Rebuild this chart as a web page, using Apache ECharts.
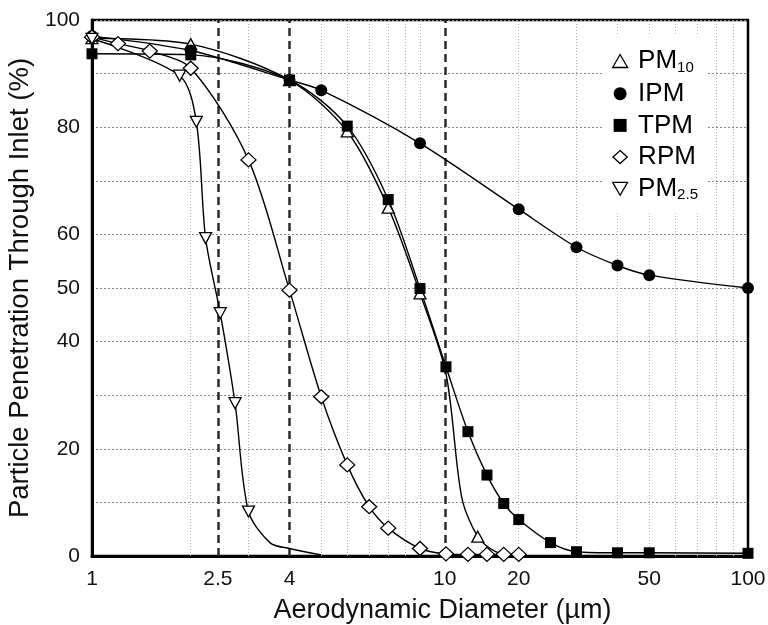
<!DOCTYPE html>
<html>
<head>
<meta charset="utf-8">
<script src="https://cdn.jsdelivr.net/npm/echarts@6/dist/echarts.min.js"></script>
<style>html,body{margin:0;padding:0;background:#fff;}#c{width:768px;height:625px;}</style>
</head>
<body>
<div id="c"></div>
<script>
// ---- data ----
const xTickValues = [1, 2.42, 4, 11.9, 20, 50, 100];
const xTickLabels = ['1', '2.5', '4', '10', '20', '50', '100'];
const yTickLabels = [0, 20, 40, 50, 60, 80, 100];
const xGridValues = [2, 3, 5, 6, 7, 8, 9, 10, 20, 30, 40, 50, 60, 70, 80, 90];
const dashedRefValues = [2.42, 4, 11.9];

const pm10D = [1, 2, 4, 6, 8, 10, 15];
const pm10V = [96.6, 95.5, 88.8, 79.2, 65.0, 49.0, 3.6];
const pm10CurveD = [12, 13.4, 17, 20];
const pm10CurveV = [34, 11, 0.8, 0];

const ipmD = [1, 2, 4, 5, 10, 20, 30, 40, 50, 100];
const ipmV = [97.0, 94.3, 88.8, 86.9, 77.0, 64.7, 57.6, 54.2, 52.4, 50.0];

const tpmD = [1, 2, 4, 6, 8, 10, 12, 14, 16, 18, 20, 25, 30, 40, 50, 100];
const tpmV = [93.7, 93.5, 88.8, 80.2, 66.5, 49.9, 35.3, 23.2, 15.1, 9.8, 6.8, 2.5, 0.8, 0.6, 0.6, 0.5];

const rpmD = [1, 1.2, 1.5, 2, 3, 4, 5, 6, 7, 8, 10, 12, 14, 16, 18, 20];
const rpmV = [96.8, 95.6, 94.2, 91.0, 73.9, 49.6, 29.7, 17.0, 9.2, 5.2, 1.4, 0.4, 0.3, 0.3, 0.3, 0.3];

const pm25D = [1, 1.85, 2.08, 2.22, 2.46, 2.73, 3.0];
const pm25V = [96.5, 89.6, 81.0, 59.3, 45.3, 28.5, 8.3];
const pm25CurveD = [3.5, 4, 5];
const pm25CurveV = [2.4, 1.4, 0.2];

const seriesNames = ['PM10', 'IPM', 'TPM', 'RPM', 'PM2.5'];

// ---- build ----
const FONT = '"Liberation Sans", Arial, Helvetica, sans-serif';
function build(ds, vs, cds, cvs) {
  const items = ds.map((d, i) => ({ value: [d, vs[i]] }));
  (cds || []).forEach((d, i) => items.push({ value: [d, cvs[i]], symbol: 'none' }));
  items.sort((a, b) => a.value[0] - b.value[0]);
  return items;
}
const lineStyle = { color: '#000', width: 1.4 };
const emptyItem = { color: '#fff', borderColor: '#000', borderWidth: 1.3 };
const fullItem = { color: '#000', borderColor: '#000', borderWidth: 0 };

const gridLines = xGridValues.map(v => ({ xAxis: v, lineStyle: { type: [1, 2], color: '#b0b0b0', width: 1 } }));
const dashLines = dashedRefValues.map(v => ({ xAxis: v, lineStyle: { type: [8, 5], color: '#2a2a2a', width: 2.5 } }));

const chart = echarts.init(document.getElementById('c'));
chart.setOption({
  animation: false,
  backgroundColor: '#fff',
  grid: { left: 92, right: 20, top: 20, bottom: 69, containLabel: false, outerBoundsMode: 'none', show: true, borderColor: '#000', borderWidth: 2.5, backgroundColor: 'transparent' },
  legend: {
    orient: 'vertical', left: 603, top: 36, padding: [12, 10, 10, 9], backgroundColor: '#fff',
    itemWidth: 26, itemHeight: 13, itemGap: 5.7,
    textStyle: {
      fontSize: 26, color: '#000', fontFamily: FONT,
      rich: {
        m: { fontSize: 26, lineHeight: 28, color: '#000', fontFamily: FONT },
        s: { fontSize: 15, lineHeight: 10, verticalAlign: 'bottom', color: '#000', fontFamily: FONT }
      }
    },
    formatter: function (name) {
      if (name === 'PM10') return '{m|PM}{s|10}';
      if (name === 'PM2.5') return '{m|PM}{s|2.5}';
      return '{m|' + name + '}';
    },
    data: [
      { name: seriesNames[0], icon: 'path://M5,0L10,8.7L0,8.7Z', itemStyle: emptyItem },
      { name: seriesNames[1], icon: 'circle', itemStyle: fullItem },
      { name: seriesNames[2], icon: 'path://M0,0H10V10H0Z', itemStyle: fullItem },
      { name: seriesNames[3], icon: 'path://M5.5,0L11,5L5.5,10L0,5Z', itemStyle: emptyItem },
      { name: seriesNames[4], icon: 'path://M0,0L10,0L5,8.7Z', itemStyle: emptyItem }
    ]
  },
  xAxis: [
    {
      type: 'log', logBase: 10, min: 1, max: 100,
      axisLine: { show: true, lineStyle: { color: '#000', width: 3 } },
      axisTick: { show: false }, axisLabel: { show: false }, splitLine: { show: false }, minorSplitLine: { show: false }
    },
    {
      type: 'value', min: 0, max: 2, position: 'bottom',
      axisLine: { show: false }, axisTick: { show: false }, splitLine: { show: false },
      axisLabel: {
        customValues: xTickValues.map(v => Math.log10(v)),
        fontSize: 21, color: '#111', fontFamily: FONT, margin: 13,
        formatter: function (v) {
          for (let i = 0; i < xTickValues.length; i++) {
            if (Math.abs(Math.log10(xTickValues[i]) - v) < 1e-6) return xTickLabels[i];
          }
          return '';
        }
      },
      name: 'Aerodynamic Diameter (\u00b5m)', nameLocation: 'middle', nameGap: 41,
      nameTextStyle: { fontSize: 27, color: '#111', fontFamily: FONT, padding: [0, 0, 0, 45] }
    }
  ],
  yAxis: {
    type: 'value', min: 0, max: 100, interval: 10,
    axisLine: { show: true, lineStyle: { color: '#000', width: 3 } },
    axisTick: { show: false },
    axisLabel: {
      fontSize: 21, color: '#111', fontFamily: FONT, margin: 12,
      formatter: function (v) { return yTickLabels.indexOf(v) >= 0 ? String(v) : ''; }
    },
    splitLine: { show: true, lineStyle: { type: [2, 2], color: '#8a8a8a', width: 1 } },
    name: 'Particle Penetration Through Inlet (%)', nameLocation: 'middle', nameGap: 54,
    nameTextStyle: { fontSize: 27.5, color: '#111', fontFamily: FONT }
  },
  series: [
    {
      name: seriesNames[0], type: 'line', xAxisIndex: 0, smooth: 0.3,
      data: build(pm10D, pm10V, pm10CurveD, pm10CurveV),
      symbol: 'triangle', symbolSize: [12, 11], showAllSymbol: true,
      lineStyle: lineStyle, itemStyle: emptyItem,
      markLine: { silent: true, z: 1, symbol: 'none', label: { show: false }, emphasis: { disabled: true }, data: gridLines.concat(dashLines) }
    },
    {
      name: seriesNames[1], type: 'line', xAxisIndex: 0, smooth: 0.3,
      data: build(ipmD, ipmV),
      symbol: 'circle', symbolSize: 12, showAllSymbol: true,
      lineStyle: lineStyle, itemStyle: fullItem
    },
    {
      name: seriesNames[2], type: 'line', xAxisIndex: 0, smooth: 0.3,
      data: build(tpmD, tpmV),
      symbol: 'rect', symbolSize: 11, showAllSymbol: true,
      lineStyle: lineStyle, itemStyle: fullItem
    },
    {
      name: seriesNames[3], type: 'line', xAxisIndex: 0, smooth: 0.3,
      data: build(rpmD, rpmV),
      symbol: 'diamond', symbolSize: [15, 14], showAllSymbol: true,
      lineStyle: lineStyle, itemStyle: emptyItem
    },
    {
      name: seriesNames[4], type: 'line', xAxisIndex: 0, smooth: 0.3,
      data: build(pm25D, pm25V, pm25CurveD, pm25CurveV),
      symbol: 'triangle', symbolRotate: 180, symbolSize: [12, 11], showAllSymbol: true,
      lineStyle: lineStyle, itemStyle: emptyItem
    }
  ]
});
</script>
</body>
</html>
